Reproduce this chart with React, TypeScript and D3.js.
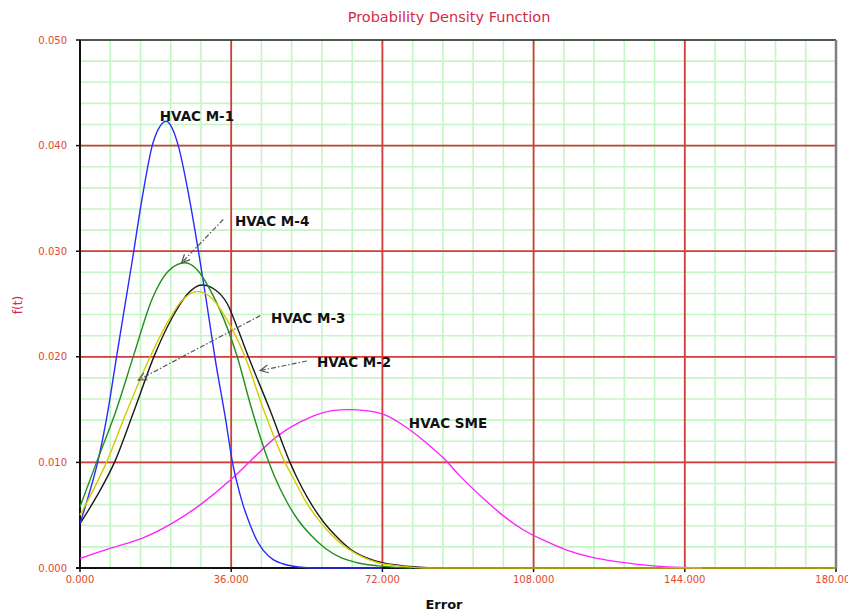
/*
 Probability density curves: d3 scales + line shapes, React renders the SVG
*/
import * as d3 from "d3";
import { useEffect } from "react";

type Pt = [number, number];

// (error, f(t))
const hvacM1: Pt[] = [
  [0, 0.0042], [2, 0.0068], [4.2, 0.0100], [6.7, 0.0150], [8.7, 0.0200],
  [12.4, 0.0290], [15, 0.0355], [17.2, 0.0400], [19, 0.0418], [20.6, 0.0423],
  [22, 0.0416], [23.4, 0.0400], [25.8, 0.0355], [28.2, 0.0300], [30.2, 0.0250],
  [32.1, 0.0200], [34.7, 0.0140], [36.3, 0.0100], [37.3, 0.0082], [38.8, 0.0060],
  [40.5, 0.0041], [42, 0.0027], [43.6, 0.0017], [46, 0.0008], [48.3, 0.0004],
  [52, 0.0001], [56, 0], [72, 0],
];

const hvacM2: Pt[] = [
  [0, 0.0042], [4, 0.0068], [8.2, 0.0100], [12.7, 0.0147], [17.9, 0.0203],
  [21.8, 0.0236], [25.5, 0.0259], [29, 0.0268], [32, 0.0264], [35.1, 0.0250],
  [37.6, 0.0226], [40.1, 0.0200], [45.4, 0.0148], [50, 0.0100], [51.6, 0.0086],
  [54.4, 0.0065], [57.9, 0.0044], [61, 0.0030], [64.3, 0.0018], [68, 0.0010],
  [72, 0.0005], [77, 0.0002], [84, 0],
];

const hvacM3: Pt[] = [
  [0, 0.0050], [6.3, 0.0100], [11, 0.0147], [16.7, 0.0200], [20.6, 0.0231],
  [24, 0.0252], [28, 0.0262], [31.5, 0.0255], [35, 0.0235], [39.3, 0.0200],
  [43.7, 0.0150], [48.8, 0.0100], [50.8, 0.0085], [53.6, 0.0064], [57.5, 0.0042],
  [60.5, 0.0029], [63.9, 0.0018], [67.5, 0.0010], [71, 0.0005], [76, 0.0002],
  [82, 0], [180, 0],
];

const hvacM4: Pt[] = [
  [0, 0.0058], [4.4, 0.0105], [8.5, 0.0148], [12.9, 0.0203], [17.2, 0.0255],
  [21, 0.0281], [25, 0.0289], [28, 0.0282], [31.3, 0.0261], [35.3, 0.0225],
  [37.3, 0.0202], [40.7, 0.0153], [44.8, 0.0102], [46.4, 0.0086], [49.2, 0.0063],
  [52, 0.0045], [55, 0.0031], [58.3, 0.0019], [62, 0.0010], [66, 0.0005],
  [71, 0.0002], [79, 0],
];

const hvacSME: Pt[] = [
  [0, 0.0009], [7.5, 0.0019], [14.7, 0.0028], [21.8, 0.0042], [29, 0.0061],
  [36, 0.0084], [41, 0.0103], [46.4, 0.0123], [54.4, 0.0142], [60, 0.0149],
  [64, 0.0150], [68, 0.0149], [72.6, 0.0145], [77.4, 0.0134], [82, 0.0120],
  [87.3, 0.0101], [90.5, 0.0087], [96, 0.0066], [100, 0.0052], [105.6, 0.0036],
  [110, 0.0027], [115.9, 0.0017], [122, 0.0010], [127.8, 0.0006], [134, 0.0003],
  [140, 0.0001], [148, 0],
];

const series = [
  { name: "HVAC SME", data: hvacSME, color: "#ff22ff" },
  { name: "HVAC M-2", data: hvacM2, color: "#1a1a1a" },
  { name: "HVAC M-1", data: hvacM1, color: "#2a2aff" },
  { name: "HVAC M-4", data: hvacM4, color: "#1f8f1f" },
  { name: "HVAC M-3", data: hvacM3, color: "#d6c800" },
];

const xTicks = [0, 36, 72, 108, 144, 180];
const yTicks = [0, 0.01, 0.02, 0.03, 0.04, 0.05];

// label anchor (left, middle) in data units, optional leader arrow from -> to
const labels = [
  { text: "HVAC M-1", at: [19.0, 0.0428] as Pt },
  { text: "HVAC M-4", at: [36.9, 0.0328] as Pt, from: [34.1, 0.0330] as Pt, to: [24.2, 0.0289] as Pt },
  { text: "HVAC M-3", at: [45.5, 0.0237] as Pt, from: [42.9, 0.0239] as Pt, to: [13.9, 0.0178] as Pt },
  { text: "HVAC M-2", at: [56.4, 0.0195] as Pt, from: [54.0, 0.0196] as Pt, to: [42.9, 0.0187] as Pt },
  { text: "HVAC SME", at: [78.3, 0.0137] as Pt },
];

export default function App() {
  const width = 848;
  const height = 614;
  const margin = { top: 40, right: 12, bottom: 46, left: 80 };

  useEffect(() => {
    document.body.style.margin = "0";
  }, []);

  const x = d3.scaleLinear().domain([0, 180]).range([margin.left, width - margin.right]);
  const y = d3.scaleLinear().domain([0, 0.05]).range([height - margin.bottom, margin.top]);

  const line = d3
    .line<Pt>()
    .x((d) => x(d[0]))
    .y((d) => y(d[1]))
    .curve(d3.curveMonotoneX);

  const minorX = d3.range(0, 180.001, 7.2);
  const minorY = d3.range(0, 0.05001, 0.002);
  const fmt = d3.format(".3f");
  const tickColor = "#e2482c";
  const font = "DejaVu Sans, Verdana, sans-serif";

  const x0 = x(0), x1 = x(180), y0 = y(0), y1 = y(0.05);

  return (
    <svg width={width} height={height} style={{ display: "block", background: "#fff" }}>
      <text x={449} y={22} textAnchor="middle" fontFamily={font} fontSize={14.5} fill="#d42a4a">
        Probability Density Function
      </text>

      {/* grid */}
      {minorX.map((v) => (
        <line key={"mx" + v} x1={x(v)} x2={x(v)} y1={y1} y2={y0} stroke="#c4f6c4" strokeWidth={1.6} />
      ))}
      {minorY.map((v) => (
        <line key={"my" + v} x1={x0} x2={x1} y1={y(v)} y2={y(v)} stroke="#c4f6c4" strokeWidth={1.6} />
      ))}
      {xTicks.slice(1, -1).map((v) => (
        <line key={"gx" + v} x1={x(v)} x2={x(v)} y1={y1} y2={y0} stroke="#d43c3c" strokeWidth={1.8} />
      ))}
      {yTicks.slice(1, -1).map((v) => (
        <line key={"gy" + v} x1={x0} x2={x1} y1={y(v)} y2={y(v)} stroke="#d43c3c" strokeWidth={1.8} />
      ))}

      {/* frame */}
      <line x1={x0} x2={x1} y1={y1} y2={y1} stroke="#222" strokeWidth={1.5} />
      <line x1={x1} x2={x1} y1={y1} y2={y0} stroke="#808080" strokeWidth={2.5} />
      <line x1={x0} x2={x0} y1={y1} y2={y0 + 1} stroke="#111" strokeWidth={2} />
      <line x1={x0 - 4} x2={x1} y1={y0} y2={y0} stroke="#111" strokeWidth={2} />

      {/* ticks + labels */}
      {yTicks.map((v) => (
        <g key={"ty" + v}>
          <line x1={x0 - 4} x2={x0} y1={y(v)} y2={y(v)} stroke="#111" strokeWidth={1.5} />
          <text x={67} y={y(v)} dy="0.35em" textAnchor="end" fontFamily={font} fontSize={10} fill={tickColor}>
            {fmt(v)}
          </text>
        </g>
      ))}
      {xTicks.map((v) => (
        <g key={"tx" + v}>
          <line x1={x(v)} x2={x(v)} y1={y0} y2={y0 + 4} stroke="#111" strokeWidth={1.5} />
          <text x={x(v)} y={583} textAnchor="middle" fontFamily={font} fontSize={10} fill={tickColor}>
            {fmt(v)}
          </text>
        </g>
      ))}

      {/* curves */}
      {series.map((s) => (
        <path key={s.name} d={line(s.data) ?? ""} fill="none" stroke={s.color} strokeWidth={1.4} />
      ))}

      {/* annotations */}
      {labels.map((l) => {
        let arrow = null;
        if (l.from && l.to) {
          const fx = x(l.from[0]), fy = y(l.from[1]);
          const tx = x(l.to[0]), ty = y(l.to[1]);
          const a = Math.atan2(fy - ty, fx - tx);
          const h = 9, spread = 0.45;
          const p1 = [tx + h * Math.cos(a - spread), ty + h * Math.sin(a - spread)];
          const p2 = [tx + h * Math.cos(a + spread), ty + h * Math.sin(a + spread)];
          arrow = (
            <g stroke="#555" fill="none" strokeWidth={1.2}>
              <line x1={fx} y1={fy} x2={tx} y2={ty} strokeDasharray="5,2,1.5,2" />
              <path d={`M${p1[0]},${p1[1]}L${tx},${ty}L${p2[0]},${p2[1]}`} />
            </g>
          );
        }
        return (
          <g key={l.text}>
            {arrow}
            <text
              x={x(l.at[0])}
              y={y(l.at[1])}
              dy="0.36em"
              fontFamily={font}
              fontWeight="bold"
              fontSize={13.5}
              fill="#111"
            >
              {l.text}
            </text>
          </g>
        );
      })}

      {/* axis titles */}
      <text x={444} y={609} textAnchor="middle" fontFamily={font} fontWeight="bold" fontSize={13} fill="#111">
        Error
      </text>
      <text
        transform={`translate(22,${305}) rotate(-90)`}
        textAnchor="middle"
        fontFamily={font}
        fontSize={12}
        fill="#d42a4a"
      >
        f(t)
      </text>
    </svg>
  );
}
